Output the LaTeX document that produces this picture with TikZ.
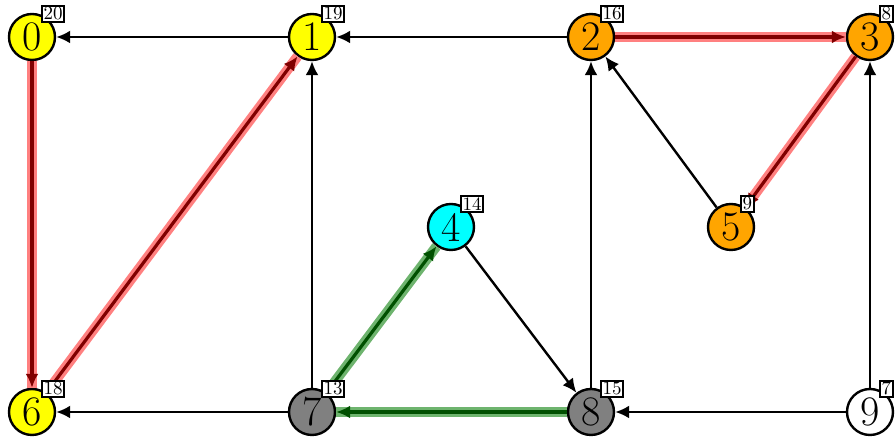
\documentclass[tikz,border=0pt]{standalone}
\usetikzlibrary{arrows.meta}
\definecolor{nyellow}{rgb}{1,1,0}
\definecolor{norange}{rgb}{1,0.647,0}
\definecolor{ncyan}{rgb}{0,1,1}
\definecolor{ngray}{rgb}{0.5,0.5,0.5}
\definecolor{hlred}{RGB}{255,128,128}
\definecolor{dkred}{RGB}{128,0,0}
\definecolor{hlgreen}{RGB}{110,180,110}
\definecolor{dkgreen}{RGB}{0,80,0}
\tikzset{
  vert/.style={circle, draw=black, line width=1.2pt, minimum size=23pt, inner sep=0pt,
    font=\fontsize{21}{24}\selectfont},
  badge/.style={draw=black, fill=white, line width=1pt, inner sep=0.8pt, anchor=south west,
    font=\fontsize{9.5}{10}\selectfont},
  edge/.style={line width=1.2pt, -{Latex[length=7pt,width=6.5pt]}},
  hlr/.style={line width=5pt, hlred},
  hlrtop/.style={line width=1.6pt, dkred, -{Latex[length=7pt,width=6.5pt]}},
  hlg/.style={line width=5pt, hlgreen},
  hlgtop/.style={line width=1.6pt, dkgreen, -{Latex[length=7pt,width=6.5pt]}},
}
\begin{document}
\begin{tikzpicture}[x=0.5pt,y=-0.5pt]
\useasboundingbox (0,0) rectangle (896,442);
\node[vert, fill=nyellow] (n0) at (32,37) {0};
\node[vert, fill=nyellow] (n1) at (312,37) {1};
\node[vert, fill=norange] (n2) at (591,37) {2};
\node[vert, fill=norange] (n3) at (870,37) {3};
\node[vert, fill=ncyan] (n4) at (451,227) {4};
\node[vert, fill=norange] (n5) at (731,227) {5};
\node[vert, fill=nyellow] (n6) at (32,412) {6};
\node[vert, fill=ngray] (n7) at (312,412) {7};
\node[vert, fill=ngray] (n8) at (591,412) {8};
\node[vert, fill=white] (n9) at (870,412) {9};
% highlight underlays
\draw[hlr] (n0) -- (n6);
\draw[hlr] (n6) -- (n1);
\draw[hlr] (n2) -- (n3);
\draw[hlr] (n3) -- (n5);
\draw[hlg] (n7) -- (n4);
\draw[hlg] (n8) -- (n7);
% plain edges
\draw[edge] (n1) -- (n0);
\draw[edge] (n2) -- (n1);
\draw[edge] (n7) -- (n1);
\draw[edge] (n5) -- (n2);
\draw[edge] (n8) -- (n2);
\draw[edge] (n9) -- (n3);
\draw[edge] (n4) -- (n8);
\draw[edge] (n7) -- (n6);
\draw[edge] (n9) -- (n8);
% highlighted tops
\draw[hlrtop] (n0) -- (n6);
\draw[hlrtop] (n6) -- (n1);
\draw[hlrtop] (n2) -- (n3);
\draw[hlrtop] (n3) -- (n5);
\draw[hlgtop] (n7) -- (n4);
\draw[hlgtop] (n8) -- (n7);
% badges
\node[badge] (b0) at ([shift={(9,-14)}]n0.center) {20};
\node[badge] (b1) at ([shift={(9,-14)}]n1.center) {19};
\node[badge] (b2) at ([shift={(9,-14)}]n2.center) {16};
\node[badge] (b3) at ([shift={(9,-14)}]n3.center) {8};
\node[badge] (b4) at ([shift={(9,-14)}]n4.center) {14};
\node[badge] (b5) at ([shift={(9,-14)}]n5.center) {9};
\node[badge] (b6) at ([shift={(9,-14)}]n6.center) {18};
\node[badge] (b7) at ([shift={(9,-14)}]n7.center) {13};
\node[badge] (b8) at ([shift={(9,-14)}]n8.center) {15};
\node[badge] (b9) at ([shift={(9,-14)}]n9.center) {7};
\end{tikzpicture}
\end{document}
